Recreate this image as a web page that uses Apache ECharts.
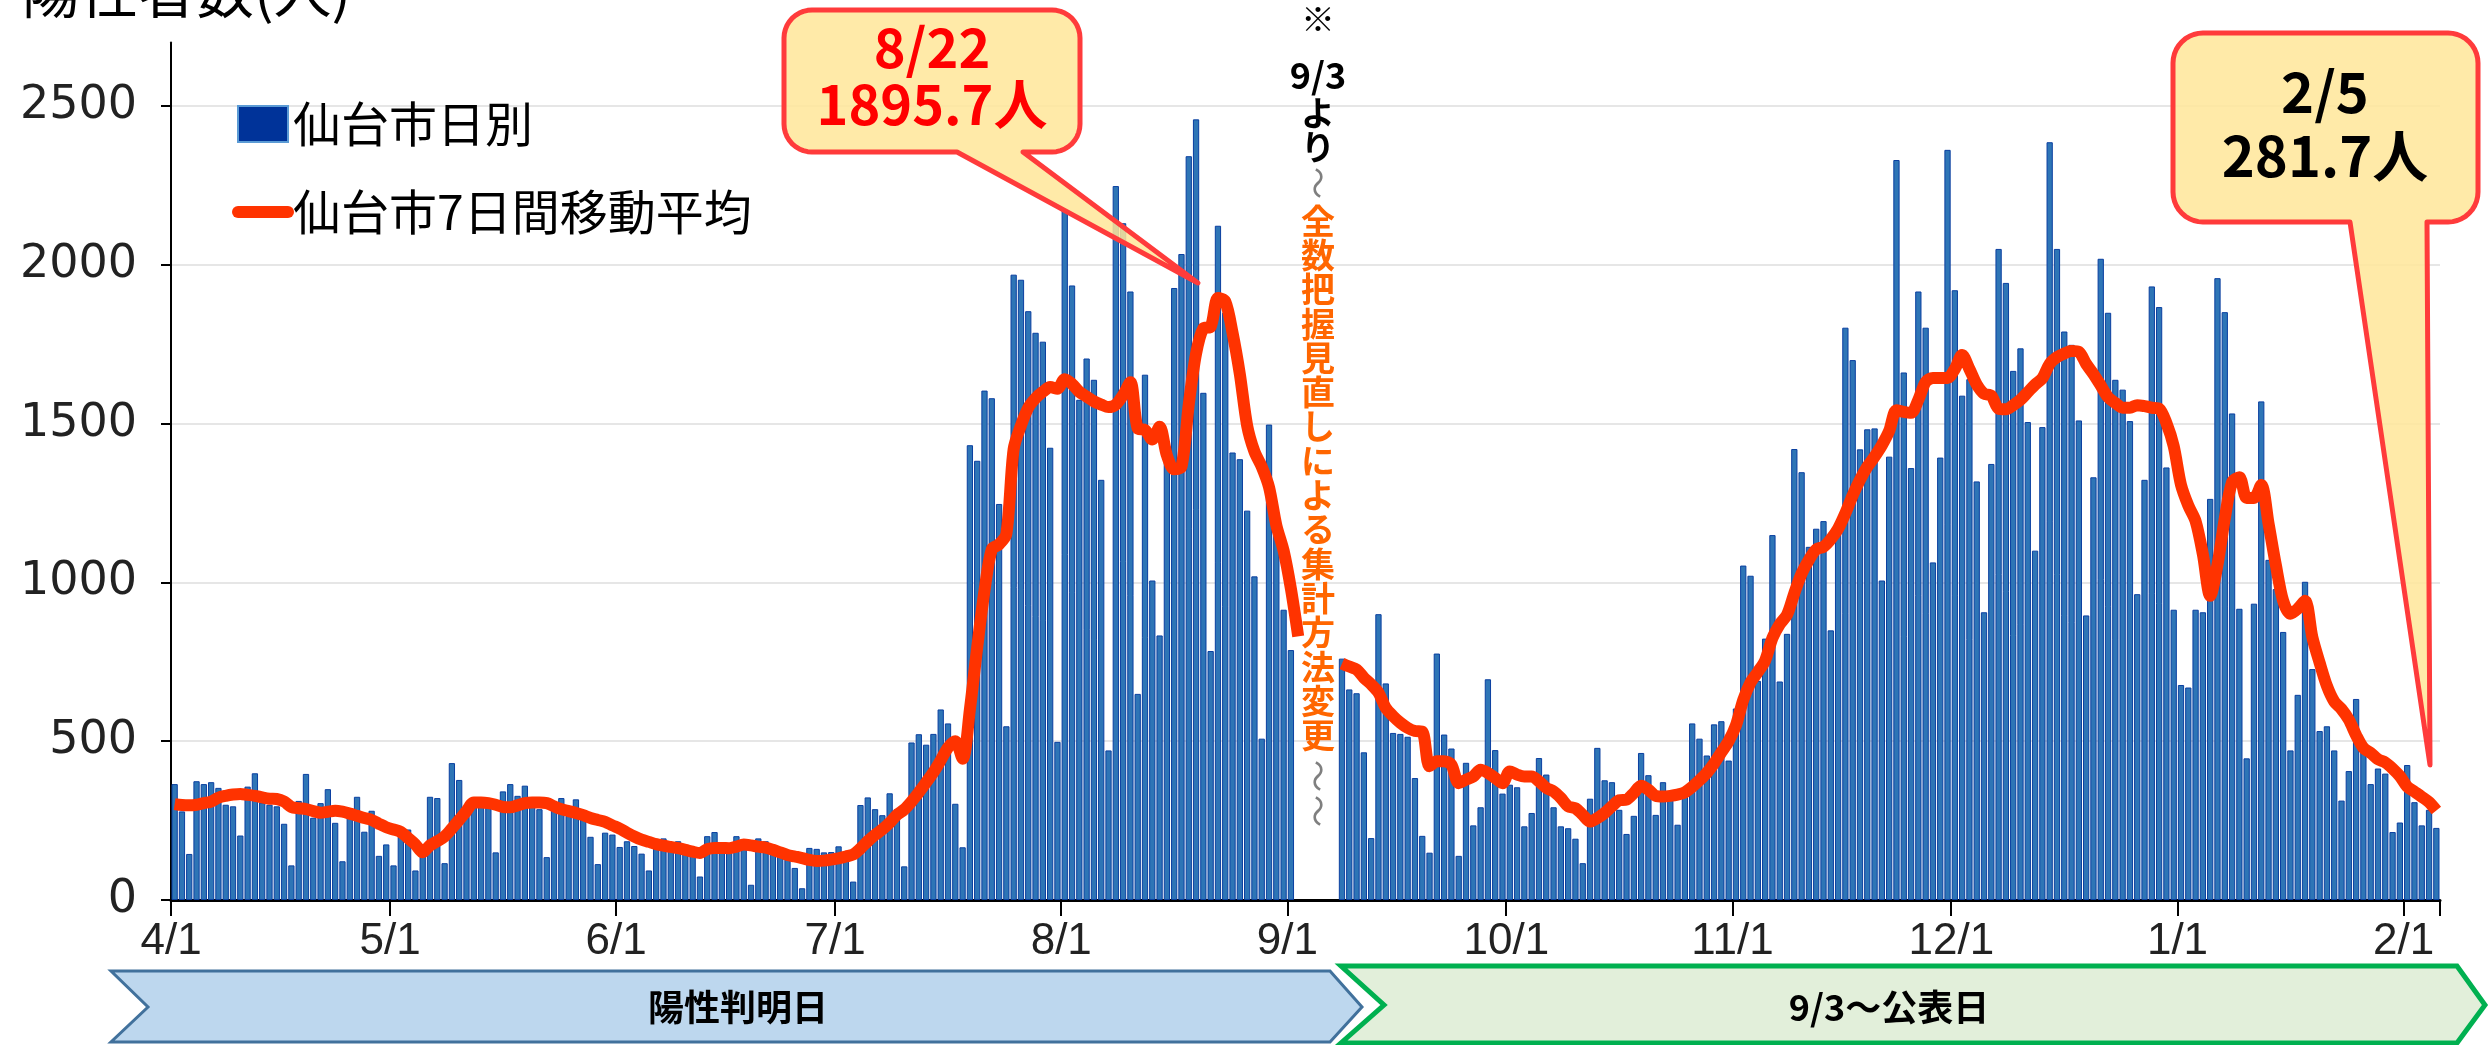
<!DOCTYPE html>
<html><head><meta charset="utf-8">
<script src="https://cdn.jsdelivr.net/npm/echarts@6/dist/echarts.min.js"></script>
<style>html,body{margin:0;padding:0;background:#fff;}#c{width:2489px;height:1045px;}</style>
</head><body><div id="c"></div>
<script>
// ---- categories (daily, 2022/4/1 - 2023/2/5) ----
const categories = [];
for (let d = new Date(2022, 3, 1); d <= new Date(2023, 1, 5); d.setDate(d.getDate() + 1)) {
  categories.push((d.getMonth() + 1) + '/' + d.getDate());
}
const yTicks = [0, 500, 1000, 1500, 2000, 2500];

// ---- daily counts (仙台市日別) ----
const dailyApr = [365,279,145,374,365,371,353,300,295,203,357,399,307,300,295,240,109,312,397,259,305,349,243,122,270,325,215,281,139,175];
const dailyMay = [109,214,222,93,138,325,321,116,431,378,270,296,312,296,150,342,365,328,360,296,286,135,296,321,265,317,254,199,113,212,206];
const dailyJun = [167,185,170,146,93,170,194,170,185,159,159,74,201,214,170,159,201,170,48,194,185,159,138,127,101,37,164,161,150,151];
const dailyJul = [169,138,58,299,323,286,267,336,286,106,496,522,489,523,600,556,303,166,1432,1383,1604,1580,1247,547,1969,1953,1854,1786,1758,1424,498];
const dailyAug = [2175,1935,1575,1705,1638,1323,471,2248,2131,1916,649,1654,1006,833,1380,1927,2034,2342,2458,1597,784,2123,1850,1409,1388,1226,1019,508,1497,1150,914];
const dailySep = [787,null,null,null,null,null,null,760,663,651,465,195,900,682,526,523,514,384,202,149,776,521,477,139,432,235,292,695,472,335];
const dailyOct = [363,355,232,274,447,395,292,232,226,193,116,319,479,377,371,284,208,265,463,393,268,371,316,237,347,556,508,455,553,563,439];
const dailyNov = [603,1053,1021,690,823,1149,688,838,1420,1347,1112,1169,1193,849,1170,1802,1700,1419,1482,1485,1006,1396,2330,1661,1360,1916,1802,1063,1393,2362];
const dailyDec = [1920,1588,1640,1318,906,1373,2050,1943,1666,1737,1505,1100,1489,2386,2050,1790,1748,1510,896,1331,2019,1849,1638,1607,1508,963,1323,1932,1867,1362,914];
const dailyJan = [677,669,914,906,1263,1958,1851,1532,917,446,933,1570,1071,979,844,471,646,1002,727,532,547,471,313,406,633,471,365,414,398,214,244];
const dailyFeb = [425,308,235,284,227];

// ---- 7-day moving average (仙台市7日間移動平均) ----
const avgApr = [302,299,298,300,305,310,322,328,332,334,331,328,323,319,318,310,293,289,286,280,275,278,281,278,272,265,258,252,240,229];
const avgMay = [222,214,195,175,150,172,185,200,225,252,280,307,307,305,300,293,292,298,305,307,307,305,295,286,280,274,267,258,252,246,235];
const avgJun = [225,212,200,190,183,176,171,167,163,158,152,148,160,164,164,163,168,175,172,168,165,158,150,142,137,132,126,123,124,127];
const avgJul = [131,137,143,162,185,205,222,243,268,285,310,339,370,402,440,480,500,445,600,795,974,1104,1120,1153,1420,1494,1550,1580,1600,1615,1610];
const avgAug = [1640,1625,1600,1585,1570,1560,1552,1560,1590,1630,1485,1480,1450,1490,1400,1356,1364,1560,1720,1800,1805,1895.7,1885,1786,1656,1494,1412,1364,1300,1180,1100];
const avgSep = [980,830,null,null,null,null,null,745,735,726,700,679,653,605,579,558,542,532,530,421,437,437,426,368,379,389,410,400,384,368];
const avgOct = [405,395,389,389,374,353,342,321,295,289,268,247,258,274,295,314,316,337,360,347,328,326,328,332,339,356,377,400,430,465,500];
const avgNov = [550,630,685,718,754,825,868,898,966,1028,1071,1104,1112,1136,1169,1218,1274,1323,1364,1396,1432,1477,1542,1537,1534,1575,1631,1644,1644,1644];
const avgDec = [1672,1716,1672,1623,1594,1588,1547,1545,1558,1575,1599,1623,1643,1688,1709,1721,1729,1726,1688,1656,1620,1583,1565,1550,1550,1558,1555,1550,1547,1502,1429];
const avgJan = [1307,1242,1193,1088,958,1055,1201,1315,1331,1266,1266,1307,1185,1055,942,901,917,942,828,747,674,625,601,568,519,479,463,443,433,414,390];
const avgFeb = [357,341,325,308,281.7];

const daily = [].concat(dailyApr, dailyMay, dailyJun, dailyJul, dailyAug, dailySep, dailyOct, dailyNov, dailyDec, dailyJan, dailyFeb);
const avg7 = [].concat(avgApr, avgMay, avgJun, avgJul, avgAug, avgSep, avgOct, avgNov, avgDec, avgJan, avgFeb);

const isMonthStart = (i, v) => String(v).split('/')[1] === '1';
const CJK = '"Noto Sans CJK JP", "Noto Sans", sans-serif';

// rounded callout outline helper (decoration only)
function arc(cx, cy, r, a0, a1) {
  const pts = [];
  for (let i = 0; i <= 10; i++) { const a = a0 + (a1 - a0) * i / 10; pts.push([cx + r * Math.cos(a), cy + r * Math.sin(a)]); }
  return pts;
}
function callout(L, T, R, B, r, bl, br, tx, ty) {
  return [].concat(
    arc(R - r, T + r, r, -Math.PI / 2, 0),
    arc(R - r, B - r, r, 0, Math.PI / 2),
    [[br, B], [tx, ty], [bl, B]],
    arc(L + r, B - r, r, Math.PI / 2, Math.PI),
    arc(L + r, T + r, r, Math.PI, 1.5 * Math.PI)
  );
}

const chart = echarts.init(document.getElementById('c'), null, {renderer: 'canvas'});
const orangeText = '全数把握見直しによる集計方法変更'.split('').join('\n');
const tildeStyle = {text: '～', fontSize: 32, fontFamily: CJK, fill: '#7F7F7F', align: 'center', verticalAlign: 'middle'};

chart.setOption({
  animation: false,
  backgroundColor: '#fff',
  grid: {left: 171, right: 49, top: 42.5, bottom: 145, containLabel: false},
  legend: {
    orient: 'vertical', left: 232, top: 100, padding: 0, itemWidth: 50, itemHeight: 36, itemGap: 40,
    textStyle: {fontSize: 48, fontFamily: CJK, color: '#000'},
    selectedMode: false,
    data: [
      {name: '仙台市日別', icon: 'rect', itemStyle: {color: '#003399', borderColor: '#5B9BD5', borderWidth: 2}},
      {name: '仙台市7日間移動平均', itemStyle: {opacity: 0}, lineStyle: {width: 12, color: '#FF3300', cap: 'round'}}
    ]
  },
  xAxis: {
    type: 'category', data: categories, boundaryGap: true,
    axisLine: {show: true, lineStyle: {color: '#000', width: 3}},
    axisTick: {show: true, interval: isMonthStart, length: 16, lineStyle: {color: '#000', width: 2}},
    axisLabel: {interval: isMonthStart, fontSize: 44, fontFamily: '"Liberation Sans Narrow", "Liberation Sans", sans-serif', color: '#222', margin: 20, padding: [0, 7, 0, 0]},
    splitLine: {show: false}
  },
  yAxis: {
    type: 'value', min: yTicks[0], max: 2700, interval: 500,
    axisLine: {show: true, lineStyle: {color: '#000', width: 2}},
    axisTick: {show: true, length: 10, lineStyle: {color: '#000', width: 2}},
    axisLabel: {fontSize: 46, fontFamily: '"DejaVu Sans", sans-serif', color: '#222', margin: 34, showMaxLabel: false, formatter: v => String(v)},
    splitLine: {show: true, showMaxLine: false, lineStyle: {color: '#e6e6e6', width: 2}}
  },
  series: [
    {
      type: 'bar', name: '仙台市日別', data: daily, barCategoryGap: '14%',
      itemStyle: {color: '#2E75B6', borderColor: '#0A3FA0', borderWidth: 1}, z: 2
    },
    {
      type: 'line', name: '仙台市7日間移動平均', data: avg7, smooth: 0.3, symbol: 'none', connectNulls: false,
      lineStyle: {color: '#FF3300', width: 12, cap: 'butt', join: 'round'}, itemStyle: {color: '#FF3300'}, z: 3
    }
  ],
  graphic: [
    {type: 'text', x: 22, y: -9, z: 100, style: {text: '陽性者数(人)', fontSize: 58, fontFamily: CJK, fill: '#000', align: 'left', verticalAlign: 'middle'}},
    // callout 8/22
    {type: 'polygon', z: 100, shape: {points: callout(784, 10, 1080, 152, 28, 957, 1023, 1198, 283)},
      style: {fill: 'rgba(255,230,153,0.85)', stroke: '#FF3B3B', lineWidth: 5, lineJoin: 'round'}},
    {type: 'text', z: 101, x: 932, y: 47, style: {text: '8/22', fontSize: 54, fontWeight: 'bold', fontFamily: CJK, fill: '#FF0000', align: 'center', verticalAlign: 'middle'}},
    {type: 'text', z: 101, x: 932, y: 104, style: {text: '1895.7人', fontSize: 54, fontWeight: 'bold', fontFamily: CJK, fill: '#FF0000', align: 'center', verticalAlign: 'middle'}},
    // callout 2/5
    {type: 'polygon', z: 100, shape: {points: callout(2173, 33, 2478, 222, 30, 2350, 2427, 2430, 765)},
      style: {fill: 'rgba(255,230,153,0.85)', stroke: '#FF3B3B', lineWidth: 5, lineJoin: 'round'}},
    {type: 'text', z: 101, x: 2325, y: 92, style: {text: '2/5', fontSize: 56, fontWeight: 'bold', fontFamily: CJK, fill: '#000', align: 'center', verticalAlign: 'middle'}},
    {type: 'text', z: 101, x: 2325, y: 156, style: {text: '281.7人', fontSize: 56, fontWeight: 'bold', fontFamily: CJK, fill: '#000', align: 'center', verticalAlign: 'middle'}},
    // vertical note in the gap
    {type: 'text', z: 101, x: 1318, y: 19, style: {text: '※', fontSize: 34, fontFamily: CJK, fill: '#000', align: 'center', verticalAlign: 'middle'}},
    {type: 'text', z: 101, x: 1318, y: 75, style: {text: '9/3', fontSize: 36, fontWeight: 'bold', fontFamily: CJK, fill: '#000', align: 'center', verticalAlign: 'middle'}},
    {type: 'text', z: 101, x: 1318, y: 130, style: {text: 'よ\nり', fontSize: 34, lineHeight: 34, fontWeight: 'bold', fontFamily: CJK, fill: '#000', align: 'center', verticalAlign: 'middle'}},
    {type: 'text', z: 101, x: 1318, y: 183, rotation: -Math.PI / 2, style: tildeStyle},
    {type: 'text', z: 101, x: 1318, y: 478, style: {text: orangeText, fontSize: 34, lineHeight: 34.3, fontWeight: 'bold', fontFamily: CJK, fill: '#FF6600', align: 'center', verticalAlign: 'middle'}},
    {type: 'text', z: 101, x: 1318, y: 776, rotation: -Math.PI / 2, style: tildeStyle},
    {type: 'text', z: 101, x: 1318, y: 811, rotation: -Math.PI / 2, style: tildeStyle},
    // bottom arrows
    {type: 'polygon', z: 100, shape: {points: [[111, 971], [1330, 971], [1362, 1007], [1330, 1042], [111, 1042], [148, 1007]]},
      style: {fill: '#BDD7EE', stroke: '#41719C', lineWidth: 3}},
    {type: 'text', z: 101, x: 738, y: 1007, style: {text: '陽性判明日', fontSize: 36, fontWeight: 'bold', fontFamily: CJK, fill: '#000', align: 'center', verticalAlign: 'middle'}},
    {type: 'polygon', z: 100, shape: {points: [[1341, 966], [2457, 966], [2485, 1005], [2457, 1043], [1341, 1043], [1384, 1005]]},
      style: {fill: '#E2EFDA', stroke: '#00B050', lineWidth: 5}},
    {type: 'text', z: 101, x: 1889, y: 1007, style: {text: '9/3～公表日', fontSize: 36, fontWeight: 'bold', fontFamily: CJK, fill: '#000', align: 'center', verticalAlign: 'middle'}}
  ]
});
</script></body></html>
